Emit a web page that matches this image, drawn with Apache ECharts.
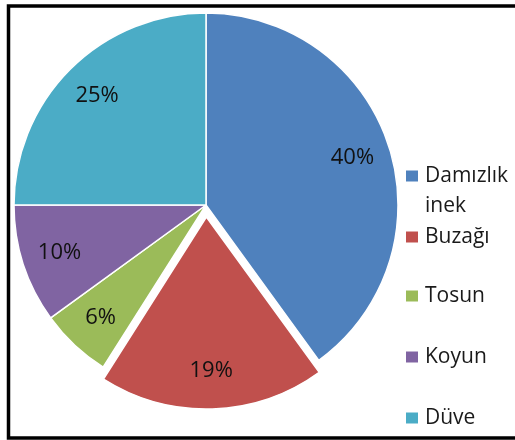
<!DOCTYPE html>
<html>
<head>
<meta charset="utf-8">
<script src="https://cdn.jsdelivr.net/npm/echarts@6/dist/echarts.min.js"></script>
<style>
  html, body { margin: 0; padding: 0; background: #fff; }
  #chart { width: 515px; height: 440px; }
</style>
</head>
<body>
<div id="chart"></div>
<script>
// ===== data =====
const categories = ['Damızlık inek', 'Buzağı', 'Tosun', 'Koyun', 'Düve'];
const shares = [40, 19, 6, 10, 25];          // percent
const explodedName = 'Buzağı';
const legendCenters = [176, 237, 296, 357, 418];  // icon centre y for each legend row

const palette = ['#4F81BD', '#C0504D', '#9BBB59', '#8064A2', '#4BACC6'];
const FONT = '"Open Sans", "Noto Sans", sans-serif';

const chart = echarts.init(document.getElementById('chart'), null, { renderer: 'canvas' });

const pieData = categories.map((name, i) => ({
    name: name,
    value: shares[i],
    selected: name === explodedName,
}));

const pieCenter = [206, 205];
const R = 192;

// one legend per row so that rows sit where the original had them
const legends = categories.map((name, i) => {
    const twoLine = name === 'Damızlık inek';
    return {
        data: [name],
        orient: 'vertical',
        left: 404,
        top: twoLine ? legendCenters[i] - 45 : legendCenters[i] - 15,
        padding: 0,
        itemWidth: 14,
        itemHeight: 13,
        itemGap: 0,
        icon: 'rect',
        selectedMode: false,
        formatter: n => twoLine ? '\u00a0\nDamızlık\ninek' : n,
        textStyle: {
            fontFamily: FONT,
            fontSize: 21,
            color: '#1a1a1a',
            lineHeight: 30,
            padding: [0, 0, 0, 1],
        },
    };
});

const option = {
    animation: false,
    color: palette,
    legend: legends,
    graphic: [{
        type: 'rect',
        silent: true,
        z: 100,
        shape: { x: 8.5, y: 6, width: 600, height: 432 },
        style: { fill: 'none', stroke: '#000', lineWidth: 3.5 },
    }],
    series: [
        {
            // coloured slices
            type: 'pie',
            center: pieCenter,
            radius: [0, R],
            startAngle: 90,
            clockwise: true,
            selectedMode: 'single',
            selectedOffset: 12,
            avoidLabelOverlap: false,
            label: { show: false },
            labelLine: { show: false },
            emphasis: { disabled: true },
            itemStyle: { borderColor: '#fff', borderWidth: 1.5 },
            data: pieData,
        },
        {
            // invisible ring only used to place the percent labels further out
            type: 'pie',
            silent: true,
            center: pieCenter,
            radius: [110, R],
            startAngle: 90,
            clockwise: true,
            selectedMode: 'single',
            selectedOffset: 12,
            avoidLabelOverlap: false,
            itemStyle: { color: 'rgba(0,0,0,0)', borderWidth: 0 },
            emphasis: { disabled: true },
            label: {
                show: true,
                position: 'inside',
                formatter: '{c}%',
                fontFamily: FONT,
                fontSize: 22,
                color: '#111',
            },
            labelLine: { show: false },
            data: pieData.map(d => Object.assign({}, d)),
        },
    ],
};

chart.setOption(option);
</script>
</body>
</html>
